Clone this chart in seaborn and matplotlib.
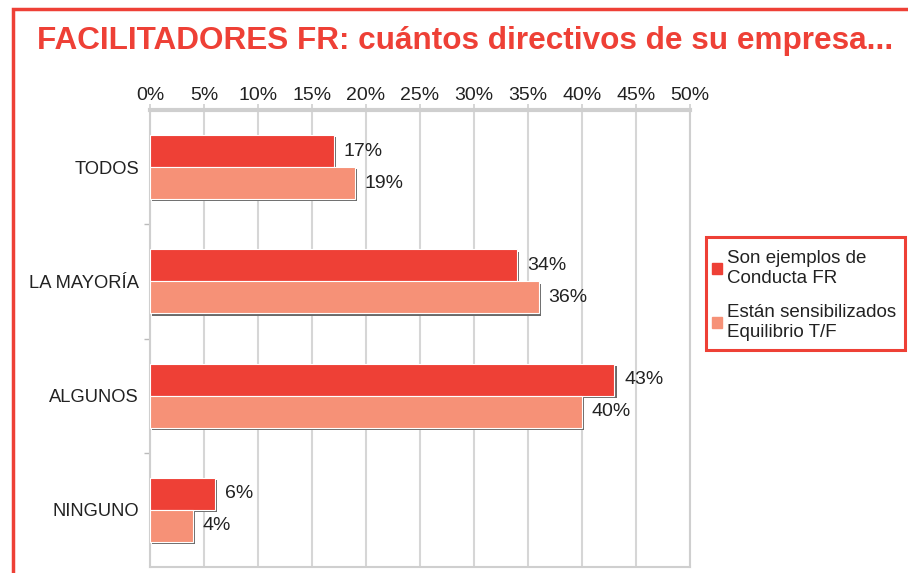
import matplotlib

matplotlib.use("Agg")
import matplotlib.pyplot as plt
import matplotlib.patheffects as pe
from matplotlib.patches import Rectangle
import pandas as pd
import seaborn as sns

# data
categories = ["TODOS", "LA MAYORÍA", "ALGUNOS", "NINGUNO"]
series_names = ["Son ejemplos de\nConducta FR", "Están sensibilizados\nEquilibrio T/F"]
ejemplos = [17, 34, 43, 6]
sensibilizados = [19, 36, 40, 4]
x_ticks = list(range(0, 51, 5))

RED = "#ee4036"
SALMON = "#f69177"
GRID = "#d6d6d6"
TEXT = "#222222"

sns.set_theme(style="white")
plt.rcParams["font.family"] = ["Liberation Sans", "DejaVu Sans"]

df = pd.DataFrame(
    {
        "categoria": categories * 2,
        "valor": ejemplos + sensibilizados,
        "serie": [series_names[0]] * 4 + [series_names[1]] * 4,
    }
)

W, H = 908, 573
fig = plt.figure(figsize=(W / 100, H / 100), dpi=100)
ax = fig.add_axes([150 / W, 1 - 567 / H, 540 / W, 457 / H])

sns.barplot(
    data=df,
    x="valor",
    y="categoria",
    hue="serie",
    order=categories,
    hue_order=series_names,
    palette=[RED, SALMON],
    saturation=1,
    orient="h",
    width=0.56,
    edgecolor="white",
    linewidth=0.8,
    legend=False,
    ax=ax,
    zorder=3,
)

shadow = [pe.SimplePatchShadow(offset=(1.6, -1.6), shadow_rgbFace="#6a6a6a", alpha=1), pe.Normal()]
for bar in ax.patches:
    bar.set_path_effects(shadow)

for cont in ax.containers:
    ax.bar_label(cont, labels=[f"{v:.0f}%" for v in cont.datavalues], padding=7,
                 fontsize=14, color=TEXT)

ax.set_xlim(0, 50)
ax.set_ylim(3.5, -0.5)
ax.set_xticks(x_ticks)
ax.set_xticklabels([f"{t}%" for t in x_ticks])
ax.xaxis.tick_top()
ax.tick_params(axis="x", length=4, width=1.2, color="#cfcfcf", pad=0.5, labelsize=14, labelcolor=TEXT)
ax.tick_params(axis="y", which="major", length=0, pad=8, labelsize=13.2, labelcolor=TEXT)
ax.set_yticks([0.5, 1.5, 2.5], minor=True)
ax.tick_params(axis="y", which="minor", length=4, width=1, color="#bbbbbb", left=True)
ax.set_xlabel("")
ax.set_ylabel("")
ax.xaxis.grid(True, color=GRID, linewidth=1.5, zorder=0)
ax.set_axisbelow(True)

for side in ["top", "left", "bottom", "right"]:
    ax.spines[side].set_color("#cfcfcf")
ax.spines["top"].set_linewidth(3)
ax.spines["left"].set_linewidth(1.5)
ax.spines["bottom"].set_linewidth(1.5)
ax.spines["right"].set_linewidth(1.5)

# legend without its own frame; the red box is drawn separately
handles = [Rectangle((0, 0), 1, 1, color=RED), Rectangle((0, 0), 1, 1, color=SALMON)]
fig.legend(
    handles,
    series_names,
    loc="upper left",
    bbox_to_anchor=(712 / W, 1 - 250 / H),
    frameon=False,
    fontsize=13.5,
    handlelength=0.55,
    handleheight=0.55,
    handletextpad=0.27,
    labelspacing=0.95,
    borderpad=0,
    borderaxespad=0,
    labelcolor=TEXT,
)
fig.patches.append(
    Rectangle((706 / W, 1 - 350 / H), 199 / W, 113 / H, transform=fig.transFigure,
              fill=False, edgecolor=RED, linewidth=2.2)
)

# outer red frame of the slide, cropped at right and bottom
fig.patches.append(
    Rectangle((13 / W, -0.1), 1.2, 1 - 9 / H + 0.1, transform=fig.transFigure,
              fill=False, edgecolor=RED, linewidth=2.5, zorder=0)
)

fig.text(37 / W, 1 - 41 / H, "FACILITADORES FR: cuántos directivos de su empresa...",
         color=RED, fontsize=22.7, fontweight="bold", va="center", ha="left")

fig.savefig("out.png", dpi=100)
